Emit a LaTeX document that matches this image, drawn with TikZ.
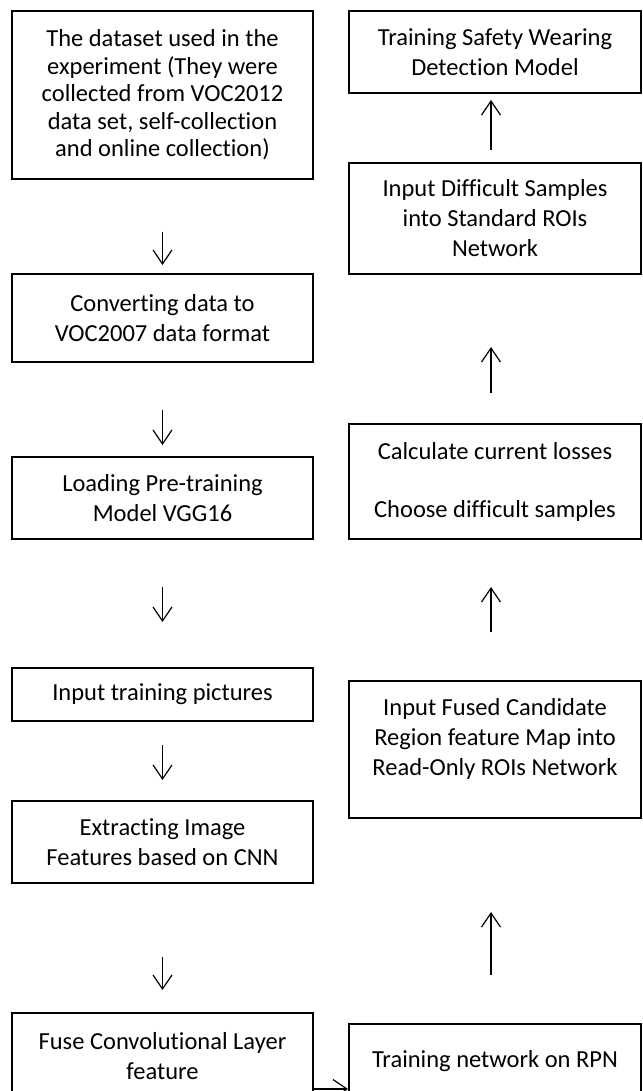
\documentclass[tikz,border=0pt]{standalone}
\usepackage{fontspec}
\setmainfont{Carlito}[Ligatures=NoCommon]
\usetikzlibrary{arrows.meta}

\tikzset{
  stepbox/.style={draw, line width=1pt, align=center, inner sep=0pt, anchor=north west,
    font=\fontsize{12.25pt}{15pt}\selectfont},
  leftbox/.style={stepbox, minimum width=150.5pt},
  rightbox/.style={stepbox, minimum width=146pt},
  flow/.style={-{Straight Barb[length=7pt,width=9.5pt]}, line width=0.6pt}
}

\begin{document}
\begin{tikzpicture}[x=0.5pt,y=-0.5pt]
    \clip (0,0) rectangle (642,1091);
    % left column
    \node[leftbox, minimum height=84pt, font=\fontsize{12.25pt}{13.75pt}\selectfont] (data) at (11,10)
      {The dataset used in the\\experiment (They were\\collected from VOC2012\\data set, self-collection\\and online collection)};
    \node[leftbox, minimum height=44pt] (conv) at (11,273) {Converting data to\\VOC2007 data format};
    \node[leftbox, minimum height=41pt] (load) at (11,456) {Loading Pre-training\\Model VGG16};
    \node[leftbox, minimum height=26.5pt] (input) at (11,667) {Input training pictures};
    \node[leftbox, minimum height=41pt] (extract) at (11,800) {Extracting Image\\Features based on CNN};
    \node[leftbox, minimum height=43pt] (fuse) at (11,1012) {Fuse Convolutional Layer\\feature};
    % right column
    \node[rightbox, minimum height=41pt] (train) at (348,10) {Training Safety Wearing\\Detection Model};
    \node[rightbox, minimum height=55.5pt] (diff) at (348,162) {Input Difficult Samples\\into Standard ROIs\\Network};
    \node[rightbox, minimum height=57.5pt] (calc) at (348,423) {Calculate current losses\\[14pt]Choose difficult samples};
    \node[rightbox, minimum height=68.5pt, text depth=13pt] (fused) at (348,680)
      {Input Fused Candidate\\Region feature Map into\\Read-Only ROIs Network};
    \node[rightbox, minimum height=37pt] (rpn) at (348,1023) {Training network on RPN};

    \draw[flow] (data.south) ++(0,52) -- ++(0,33);
    \draw[flow] (conv.south) ++(0,47) -- ++(0,35);
    \draw[flow] (load.south) ++(0,47) -- ++(0,35);
    \draw[flow] (input.south) ++(0,23) -- ++(0,35);
    \draw[flow] (extract.south) ++(0,73) -- ++(0,33);
    \draw[flow] ([yshift=-16.5pt]fuse.east) -- ([yshift=-16.5pt]fuse.east -| rpn.west);
    \draw[flow] ([xshift=-2pt]rpn.north) ++(0,-48) -- ++(0,-63);
    \draw[flow] ([xshift=-2pt]fused.north) ++(0,-48) -- ++(0,-45);
    \draw[flow] ([xshift=-2pt]calc.north) ++(0,-30) -- ++(0,-46);
    \draw[flow] ([xshift=-2pt]diff.north) ++(0,-12) -- ++(0,-50);
  \end{tikzpicture}
\end{document}
